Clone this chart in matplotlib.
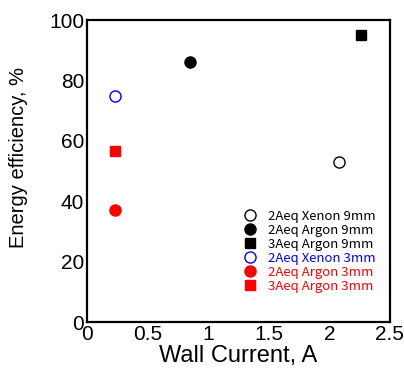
import matplotlib.pyplot as plt

plt.rcParams['font.family'] = ['Liberation Sans', 'DejaVu Sans']

# data
labels = ["2Aeq Xenon 9mm", "2Aeq Argon 9mm", "3Aeq Argon 9mm",
          "2Aeq Xenon 3mm", "2Aeq Argon 3mm", "3Aeq Argon 3mm"]
current = [2.08, 0.85, 2.26, 0.23, 0.23, 0.23]
efficiency = [53.0, 86.0, 95.0, 74.8, 37.1, 56.6]
colors = ["black", "black", "black", "blue", "red", "red"]
markers = ["o", "o", "s", "o", "o", "s"]
filled = [False, True, True, False, True, True]

fig = plt.figure(figsize=(4.04, 3.79), dpi=100)
ax = fig.add_axes([0.215, 0.150, 0.750, 0.797])

for i in range(len(labels)):
    fc = colors[i] if filled[i] else "none"
    ms = 6.5 if markers[i] == "s" else 8
    ax.plot(current[i], efficiency[i], linestyle="none", marker=markers[i],
            markersize=ms, markerfacecolor=fc, markeredgecolor=colors[i],
            markeredgewidth=1.0, label=labels[i])

ax.set_xlim(0, 2.5)
ax.set_ylim(0, 100)
ax.set_xticks([0, 0.5, 1, 1.5, 2, 2.5])
ax.set_xticklabels(["0", "0.5", "1", "1.5", "2", "2.5"])
ax.set_yticks([0, 20, 40, 60, 80, 100])
ax.tick_params(length=0, labelsize=15, pad=2)
for s in ax.spines.values():
    s.set_linewidth(1.6)

ax.set_xlabel("Wall Current, A", fontsize=17, labelpad=1)
ax.set_ylabel("Energy efficiency, %", fontsize=14.5)
ax.yaxis.set_label_coords(-0.195, 0.546)

leg = ax.legend(loc="lower right", bbox_to_anchor=(0.98, 0.07),
                frameon=False, handlelength=1.0, handletextpad=0.9,
                labelspacing=0.08, borderaxespad=0.2,
                prop={"family": ["Noto Sans CJK JP", "DejaVu Sans"], "size": 9.5})
for t, c in zip(leg.get_texts(), colors):
    t.set_color(c)

fig.savefig("out.png", dpi=100)
